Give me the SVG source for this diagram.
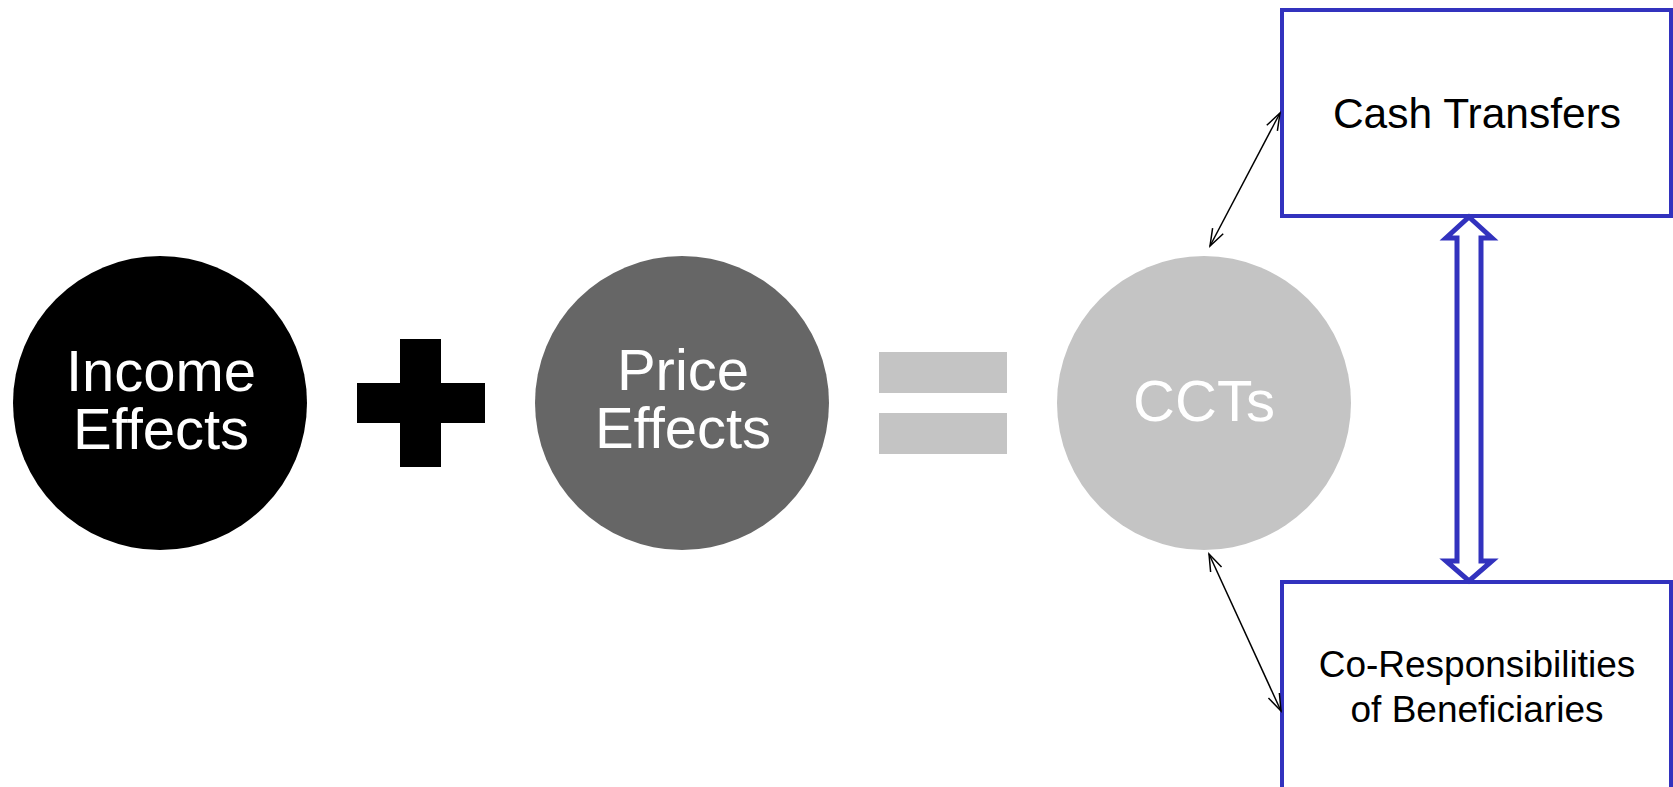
<svg xmlns="http://www.w3.org/2000/svg" width="1673" height="787" viewBox="0 0 1673 787">
<style>
.lbl{font-family:"Liberation Sans",Arial,sans-serif;text-anchor:middle}
.ctext{fill:#ffffff;font-size:58px}
.btext{fill:#000000}
.box{fill:#ffffff;stroke:#3232BE;stroke-width:4}
.thin{stroke:#000000;stroke-width:1.5;fill:none}
</style>
<defs>
<marker id="openArrow" viewBox="0 0 20 14" refX="18" refY="7" markerWidth="20" markerHeight="14" markerUnits="userSpaceOnUse" orient="auto-start-reverse">
<path d="M1,1 L18,7 L1,13" fill="none" stroke="#000000" stroke-width="1.5"/>
</marker>
</defs>
<rect width="1673" height="787" fill="#ffffff"/>
<g id="income">
<circle cx="160" cy="403" r="147" fill="#000000"/>
<text class="lbl ctext" x="161" y="391">Income</text>
<text class="lbl ctext" x="161" y="449">Effects</text>
</g>
<g id="plus">
<rect x="400" y="339" width="41" height="128" fill="#000000"/>
<rect x="357" y="383" width="128" height="40" fill="#000000"/>
</g>
<g id="price">
<circle cx="682" cy="403" r="147" fill="#666666"/>
<text class="lbl ctext" x="683" y="390">Price</text>
<text class="lbl ctext" x="683" y="448">Effects</text>
</g>
<g id="equals">
<rect x="879" y="352" width="128" height="41" fill="#c4c4c4"/>
<rect x="879" y="413" width="128" height="41" fill="#c4c4c4"/>
</g>
<g id="ccts">
<circle cx="1204" cy="403" r="147" fill="#c4c4c4"/>
<text class="lbl ctext" x="1204" y="421">CCTs</text>
</g>
<g id="cash">
<rect class="box" x="1282" y="10" width="389" height="206"/>
<text class="lbl btext" x="1477" y="128" font-size="42.5">Cash Transfers</text>
</g>
<g id="coresp">
<rect class="box" x="1282" y="582" width="389" height="230"/>
<text class="lbl btext" x="1477" y="677" font-size="37">Co-Responsibilities</text>
<text class="lbl btext" x="1477" y="722" font-size="37">of Beneficiaries</text>
</g>
<g id="connectors">
<line class="thin" x1="1280" y1="113" x2="1210" y2="246" marker-start="url(#openArrow)" marker-end="url(#openArrow)"/>
<line class="thin" x1="1209" y1="554" x2="1281" y2="711" marker-start="url(#openArrow)" marker-end="url(#openArrow)"/>
<polygon points="1469,217 1492,238 1481,238 1481,561 1492,561 1469,581 1446,561 1457,561 1457,238 1446,238" fill="#ffffff" stroke="#3232BE" stroke-width="5" stroke-linejoin="miter"/>
</g>
</svg>
